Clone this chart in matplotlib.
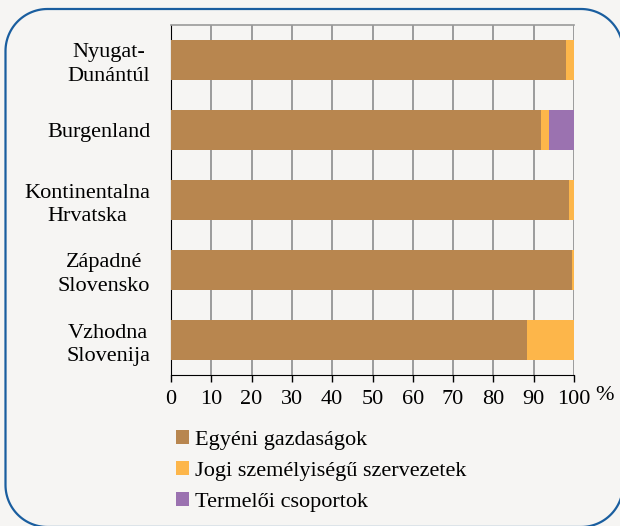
import matplotlib
matplotlib.use("Agg")
import matplotlib.pyplot as plt
import numpy as np
from matplotlib.patches import Patch
from matplotlib.lines import Line2D
from matplotlib.transforms import IdentityTransform

# Data (shares in %)
regions = ["Nyugat-\nDunántúl", "Burgenland", "Kontinentalna\nHrvatska",
           "Západné\nSlovensko", "Vzhodna\nSlovenija"]
egyeni = [98.0, 91.8, 98.8, 99.6, 88.4]
jogi = [2.0, 2.0, 1.2, 0.4, 11.6]
termeloi = [0.0, 6.2, 0.0, 0.0, 0.0]

series_names = ["Egyéni gazdaságok", "Jogi személyiségű szervezetek", "Termelői csoportok"]
colors = ["#B8864F", "#FDB64A", "#9B72B0"]

plt.rcParams['font.family'] = ['Liberation Serif', 'DejaVu Serif']

bg = "#F6F5F3"
fig = plt.figure(figsize=(6.2, 5.26), dpi=100, facecolor=bg)
ax = fig.add_axes([171 / 620, 1 - 375 / 526, 403 / 620, 350 / 526])
ax.set_facecolor(bg)

# rounded frame (pixel coords, origin bottom-left); right edge just off canvas
x0, x1, y0, y1, r = 5.5, 623.0, -1.0, 517.0, 42.0
t = np.linspace(0, np.pi / 2, 30)
fx = np.concatenate([x1 - r + r * np.cos(t),            # top-right
                     x0 + r - r * np.sin(t),            # top-left
                     x0 + r - r * np.cos(t),            # bottom-left
                     x1 - r + r * np.sin(t), [x1]])     # bottom-right
fy = np.concatenate([y1 - r + r * np.sin(t),
                     y1 - r + r * np.cos(t),
                     y0 + r - r * np.sin(t),
                     y0 + r - r * np.cos(t), [y1 - r]])
fig.lines.append(Line2D(fx, fy, transform=IdentityTransform(), color="#1A5E9F",
                        linewidth=1.6, solid_capstyle="round"))

y = np.arange(len(regions))
left = np.zeros(len(regions))
for vals, c, name in zip([egyeni, jogi, termeloi], colors, series_names):
    ax.barh(y, vals, left=left, height=0.56, color=c, label=name, zorder=3)
    left += np.array(vals)

ax.set_xlim(0, 100)
ax.set_ylim(len(regions) - 0.5, -0.5)
ax.set_xticks(np.arange(0, 101, 10))
ax.xaxis.grid(True, color="#8C8C8C", linewidth=1.2, zorder=0)
ax.set_yticks(y)
ax.set_yticklabels(regions, fontsize=16, multialignment="center", linespacing=1.3)
ax.tick_params(axis="y", length=0, pad=15)
ax.tick_params(axis="x", direction="out", length=5, width=1, labelsize=16, pad=6)

ax.spines["top"].set_color("#9A9A9A")
ax.spines["top"].set_linewidth(1.2)
ax.spines["right"].set_visible(False)
ax.spines["left"].set_color("black")
ax.spines["bottom"].set_color("black")

fig.text(605 / 620, 1 - 395 / 526, "%", fontsize=16, ha="center", va="center")

handles = [Patch(facecolor=c, edgecolor="none") for c in colors]
fig.legend(handles, series_names, loc="upper left", bbox_to_anchor=(176 / 620, 1 - 430 / 526),
           frameon=False, fontsize=16, handlelength=0.6, handleheight=0.6,
           handletextpad=0.25, labelspacing=0.5, borderpad=0, borderaxespad=0)

fig.savefig("out.png", dpi=100, facecolor=bg)
